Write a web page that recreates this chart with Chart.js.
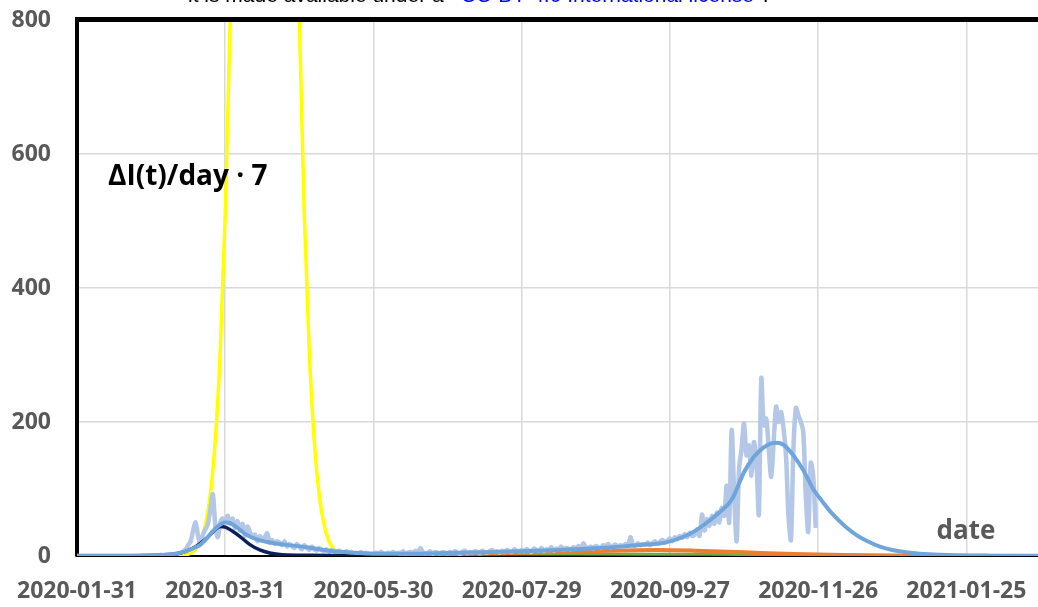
<!DOCTYPE html>
<html lang="en">
<head>
<meta charset="UTF-8">
<title>Delta I(t) per day</title>
<script src="https://cdn.jsdelivr.net/npm/chart.js"></script>
<style>
  html, body { margin: 0; padding: 0; background: #fff; }
  #wrap { position: relative; width: 1038px; height: 607px; overflow: hidden; }
</style>
</head>
<body>
<div id="wrap"><canvas id="chart" width="1038" height="607"></canvas></div>
<script>
// x = days since 2020-01-31
const tickDays = [0, 60, 120, 180, 240, 300, 360];
const tickLabels = ['2020-01-31', '2020-03-31', '2020-05-30', '2020-07-29', '2020-09-27', '2020-11-26', '2021-01-25'];
const yTicks = [0, 200, 400, 600, 800];

// raw daily values (light blue, noisy), day 0 .. 299
const rawValues = [
  0, 0, 0, 0, 0, 0, 0, 0, 0, 0,
  0, 0, 0, 0, 0, 0, 0, 0, 0, 0,
  0, 0, 0, 0, 0, 0, 0, 1, 0, 1,
  0, 1, 1, 1, 2, 1, 2, 2, 3, 2,
  3, 4, 5, 7, 10, 16, 22, 38, 50, 30,
  18, 32, 40, 48, 70, 92, 45, 28, 50, 56,
  52, 60, 48, 56, 42, 52, 38, 48, 30, 44,
  36, 28, 32, 22, 30, 24, 28, 34, 20, 24,
  18, 22, 20, 16, 22, 14, 18, 15, 12, 18,
  14, 10, 16, 12, 9, 14, 10, 8, 12, 9,
  7, 10, 6, 9, 7, 5, 8, 6, 4, 7,
  5, 6, 3, 5, 4, 6, 3, 5, 4, 2,
  4, 5, 3, 6, 4, 3, 5, 4, 6, 3,
  5, 4, 7, 3, 5, 6, 4, 8, 5, 12,
  6, 4, 5, 7, 3, 6, 5, 4, 6, 5,
  4, 6, 5, 7, 5, 3, 6, 8, 4, 6,
  5, 7, 6, 4, 8, 6, 5, 7, 9, 6,
  7, 5, 8, 6, 9, 7, 6, 10, 8, 7,
  9, 7, 10, 8, 6, 11, 9, 8, 12, 7,
  10, 9, 13, 8, 11, 10, 14, 9, 12, 11,
  10, 13, 12, 15, 11, 19, 13, 12, 14, 11,
  15, 13, 12, 16, 14, 18, 13, 15, 17, 14,
  16, 15, 18, 14, 28, 17, 15, 19, 16, 18,
  17, 20, 16, 19, 22, 18, 21, 24, 20, 23,
  26, 22, 28, 25, 30, 27, 33, 28, 35, 30,
  32, 40, 30, 62, 38, 55, 45, 60, 48, 65,
  50, 72, 60, 105, 50, 188, 95, 22, 130, 160,
  198, 150, 165, 120, 170, 140, 62, 265, 195, 205,
  160, 118, 170, 223, 200, 215, 190, 150, 60, 24,
  160, 221, 210, 200, 185, 90, 36, 139, 120, 42
];

// fitted curve (medium blue)
const fitDays = [0, 20, 30, 36, 40, 44, 48, 50, 52, 55, 58, 60, 62, 65, 68, 72, 77, 84, 91, 98,
  104, 112, 120, 135, 150, 165, 180, 195, 210, 220, 230, 238, 245, 250, 255, 260, 265, 270, 274, 278,
  281, 283, 286, 290, 294, 298, 302, 306, 311, 316, 320, 325, 330, 338, 345, 355, 370, 389];
const fitValues = [0.3, 0.5, 1, 2, 3.5, 7, 13, 17, 24, 37, 47, 50, 49, 42, 33, 26, 21, 17, 14, 10,
  7, 5, 3.5, 3.5, 4.5, 5.5, 7, 9, 11.5, 14, 17, 20, 28, 37, 50, 65, 84, 125, 148, 162,
  168, 169, 166, 150, 128, 100, 80, 62, 44, 30, 22, 14, 9, 4.5, 2.5, 1.2, 0.5, 0.2];

// first wave component (navy)
const navyDays = [20, 35, 40, 44, 48, 52, 55, 58, 60, 63, 66, 70, 74, 78, 83, 95, 110, 130];
const navyValues = [0, 1, 3, 7, 14, 25, 36, 44, 43, 37, 29, 17, 9, 4.5, 2, 1.2, 0.5, 0];

// yellow curve (runs off the top of the chart)
const yellowDays = [40, 44, 46, 48, 50, 52, 54, 56, 58, 60, 62, 64, 66, 68, 70, 72, 74, 76, 78, 80,
  82, 84, 86, 88, 90, 92, 94, 96, 98, 100, 102, 104, 106, 108, 112];
const yellowValues = [0.3, 1.7, 4, 10, 22, 47, 93, 174, 307, 510, 800, 1180, 1640, 2140, 2640, 3060, 3350, 3450, 3350, 3060,
  2640, 2140, 1640, 1180, 800, 510, 307, 174, 93, 47, 22, 10, 4, 1.7, 0.3];

const orangeDays = [100, 130, 160, 190, 215, 235, 250, 270, 290, 310, 330, 350, 389];
const orangeValues = [0, 1.5, 3.5, 5.5, 8, 9, 8, 5.5, 3, 1.5, 0.7, 0.3, 0];

const greenDays = [100, 130, 150, 200, 250, 280, 300];
const greenValues = [0, 2.5, 3, 3, 2.5, 2, 0];

function pts(days, vals) {
  return days.map((d, i) => ({ x: d, y: vals[i] }));
}
const rawPts = rawValues.map((v, i) => ({ x: i, y: v }));

const font = { family: '"Open Sans", sans-serif', size: 23, weight: 'bold' };

const decor = {
  id: 'decor',
  afterDatasetsDraw(chart) {
    const { ctx, chartArea: a } = chart;
    ctx.save();
    // heavy top frame line
    ctx.fillStyle = '#000';
    ctx.fillRect(a.left - 2, a.top - 3, a.right - a.left + 4, 5);
    // annotations
    ctx.textBaseline = 'alphabetic';
    ctx.textAlign = 'left';
    ctx.fillStyle = '#000';
    ctx.font = 'bold 28px "Open Sans", sans-serif';
    ctx.fillText('\u0394I(t)/day \u00b7 7', 108, 185);
    ctx.fillStyle = '#595959';
    ctx.font = 'bold 26px "Open Sans", sans-serif';
    ctx.textAlign = 'center';
    ctx.fillText('date', 966, 539);
    // clipped licence line at the very top
    ctx.textAlign = 'left';
    ctx.font = '21px "Liberation Sans", sans-serif';
    ctx.fillStyle = '#000';
    ctx.fillText('it is made available under a ', 188, 2);
    ctx.fillStyle = '#0000ff';
    ctx.fillText('CC-BY 4.0 International license', 461, 2);
    ctx.fillStyle = '#000';
    ctx.fillText(' .', 757, 2);
    ctx.restore();
  }
};

new Chart(document.getElementById('chart'), {
  type: 'line',
  data: {
    datasets: [
      { data: pts(fitDays, fitValues), borderColor: '#6FA5DB', borderWidth: 4, cubicInterpolationMode: 'monotone', order: 1 },
      { data: pts(navyDays, navyValues), borderColor: '#0B1F5C', borderWidth: 3.5, cubicInterpolationMode: 'monotone', order: 2 },
      { data: rawPts, borderColor: '#B4C7E7', borderWidth: 4.5, tension: 0.3, order: 3 },
      { data: pts(yellowDays, yellowValues), borderColor: '#FFFF00', borderWidth: 3.5, cubicInterpolationMode: 'monotone', order: 4 },
      { data: pts(orangeDays, orangeValues), borderColor: '#ED7D31', borderWidth: 4, cubicInterpolationMode: 'monotone', order: 5 },
      { data: pts(greenDays, greenValues), borderColor: '#70AD47', borderWidth: 3, cubicInterpolationMode: 'monotone', order: 6 }
    ]
  },
  options: {
    responsive: false,
    animation: false,
    devicePixelRatio: 1,
    elements: { point: { radius: 0 } },
    layout: { padding: { top: 20, right: 0, left: 0, bottom: 0 } },
    plugins: { legend: { display: false }, tooltip: { enabled: false } },
    scales: {
      x: {
        type: 'linear',
        min: 0,
        max: 389,
        afterBuildTicks: (scale) => { scale.ticks = tickDays.map(v => ({ value: v })); },
        afterFit: (scale) => {
          scale.height = 51;
          scale.paddingLeft = 0;
          scale.paddingRight = 0;
        },
        ticks: {
          callback: (v) => tickLabels[tickDays.indexOf(v)],
          font: font,
          color: '#595959',
          padding: 22,
          maxRotation: 0,
          autoSkip: false
        },
        grid: { color: '#D9D9D9', lineWidth: 1.5, drawTicks: false },
        border: { display: true, color: '#000', width: 2 }
      },
      y: {
        min: 0,
        max: 800,
        afterBuildTicks: (scale) => { scale.ticks = yTicks.map(v => ({ value: v })); },
        afterFit: (scale) => {
          scale.width = 77;
          scale.paddingTop = 0;
          scale.paddingBottom = 0;
        },
        ticks: { font: font, color: '#595959', padding: 26 },
        grid: { color: '#D9D9D9', lineWidth: 1.5, drawTicks: false },
        border: { display: true, color: '#000', width: 4 }
      }
    }
  },
  plugins: [decor]
});
</script>
</body>
</html>
